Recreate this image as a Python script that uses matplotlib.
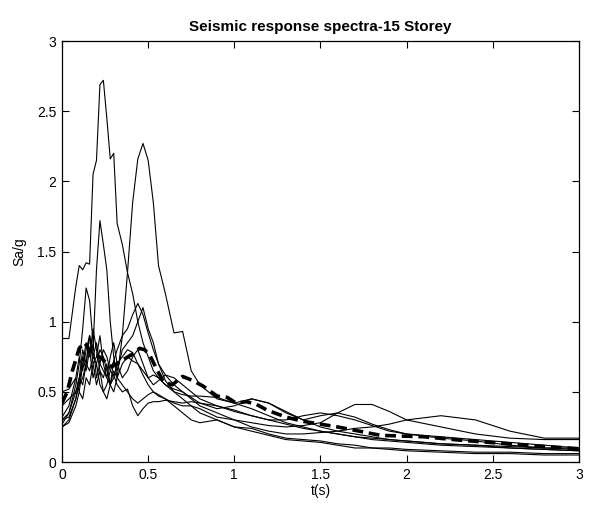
import matplotlib
matplotlib.use("Agg")
import matplotlib.pyplot as plt

plt.rcParams['font.family'] = ['Liberation Sans', 'DejaVu Sans']

# period grid (s) shared by the individual records
period = [0.00, 0.04, 0.08, 0.10, 0.12, 0.14, 0.16, 0.18, 0.20, 0.22,
          0.24, 0.26, 0.28, 0.30, 0.32, 0.35, 0.38, 0.41, 0.44, 0.47,
          0.50, 0.53, 0.56, 0.60, 0.65, 0.70, 0.75, 0.80, 0.90, 1.00,
          1.10, 1.20, 1.30, 1.40, 1.50, 1.60, 1.70, 1.80, 1.90, 2.00,
          2.20, 2.40, 2.60, 2.80, 3.00]

# spectral acceleration Sa/g of each ground motion record
rec_a = [0.88, 0.88, 1.25, 1.40, 1.37, 1.42, 1.41, 2.05, 2.15, 2.69,
         2.72, 2.45, 2.16, 2.20, 1.70, 1.55, 1.35, 1.20, 1.00, 0.85,
         0.75, 0.65, 0.60, 0.55, 0.50, 0.48, 0.47, 0.47, 0.46, 0.42,
         0.38, 0.33, 0.28, 0.25, 0.22, 0.20, 0.18, 0.16, 0.15, 0.14,
         0.12, 0.11, 0.10, 0.09, 0.08]
rec_b = [0.30, 0.35, 0.50, 0.55, 0.60, 0.70, 0.65, 0.75, 0.70, 0.80,
         0.75, 0.65, 0.55, 0.50, 0.60, 0.90, 1.35, 1.85, 2.16, 2.27,
         2.15, 1.85, 1.40, 1.20, 0.92, 0.93, 0.65, 0.55, 0.45, 0.42,
         0.45, 0.42, 0.35, 0.30, 0.25, 0.22, 0.20, 0.18, 0.16, 0.15,
         0.13, 0.12, 0.11, 0.10, 0.10]
rec_c = [0.30, 0.32, 0.45, 0.60, 0.55, 0.70, 0.90, 0.80, 1.37, 1.72,
         1.55, 1.37, 1.00, 0.75, 0.60, 0.55, 0.50, 0.45, 0.42, 0.45,
         0.48, 0.50, 0.48, 0.45, 0.42, 0.40, 0.40, 0.38, 0.32, 0.30,
         0.28, 0.26, 0.25, 0.26, 0.28, 0.35, 0.41, 0.41, 0.36, 0.30,
         0.25, 0.20, 0.17, 0.16, 0.16]
rec_d = [0.27, 0.35, 0.55, 0.70, 0.95, 1.24, 1.15, 0.85, 0.60, 0.70,
         0.65, 0.60, 0.55, 0.72, 0.65, 0.80, 0.85, 0.90, 1.00, 1.10,
         0.95, 0.85, 0.70, 0.62, 0.55, 0.50, 0.45, 0.40, 0.35, 0.30,
         0.25, 0.22, 0.20, 0.20, 0.21, 0.22, 0.24, 0.25, 0.27, 0.30,
         0.33, 0.30, 0.22, 0.17, 0.17]
rec_e = [0.25, 0.30, 0.45, 0.55, 0.75, 0.65, 0.80, 0.60, 0.70, 0.55,
         0.50, 0.55, 0.65, 0.72, 0.80, 0.90, 0.95, 1.05, 1.13, 1.05,
         0.92, 0.80, 0.70, 0.58, 0.50, 0.45, 0.40, 0.35, 0.30, 0.25,
         0.24, 0.20, 0.17, 0.16, 0.15, 0.13, 0.12, 0.10, 0.10, 0.09,
         0.08, 0.07, 0.07, 0.06, 0.06]
rec_f = [0.40, 0.45, 0.50, 0.60, 0.80, 0.70, 0.90, 0.75, 0.85, 0.70,
         0.80, 0.75, 0.65, 0.62, 0.55, 0.50, 0.52, 0.40, 0.33, 0.38,
         0.42, 0.43, 0.43, 0.44, 0.43, 0.42, 0.43, 0.42, 0.40, 0.37,
         0.33, 0.30, 0.27, 0.24, 0.22, 0.20, 0.18, 0.17, 0.16, 0.15,
         0.13, 0.12, 0.10, 0.09, 0.08]
rec_g = [0.32, 0.40, 0.60, 0.50, 0.70, 0.85, 0.75, 0.95, 0.80, 0.65,
         0.60, 0.70, 0.55, 0.65, 0.60, 0.70, 0.75, 0.72, 0.70, 0.65,
         0.60, 0.62, 0.60, 0.55, 0.52, 0.50, 0.46, 0.42, 0.38, 0.40,
         0.45, 0.42, 0.36, 0.30, 0.33, 0.35, 0.32, 0.27, 0.23, 0.20,
         0.17, 0.15, 0.12, 0.10, 0.09]
rec_h = [0.25, 0.28, 0.40, 0.50, 0.45, 0.60, 0.55, 0.70, 0.55, 0.65,
         0.50, 0.45, 0.55, 0.60, 0.70, 0.75, 0.80, 0.78, 0.70, 0.62,
         0.55, 0.50, 0.47, 0.45, 0.40, 0.35, 0.30, 0.28, 0.30, 0.25,
         0.22, 0.19, 0.16, 0.15, 0.14, 0.12, 0.10, 0.10, 0.09, 0.08,
         0.07, 0.06, 0.06, 0.05, 0.05]
rec_i = [0.50, 0.52, 0.60, 0.75, 0.65, 0.80, 0.90, 0.70, 0.75, 0.90,
         0.70, 0.60, 0.75, 0.85, 0.70, 0.60, 0.65, 0.75, 0.80, 0.70,
         0.60, 0.55, 0.58, 0.62, 0.60, 0.55, 0.50, 0.45, 0.40, 0.36,
         0.33, 0.30, 0.30, 0.33, 0.35, 0.33, 0.30, 0.26, 0.22, 0.20,
         0.18, 0.16, 0.14, 0.12, 0.10]

records = [rec_a, rec_b, rec_c, rec_d, rec_e, rec_f, rec_g, rec_h, rec_i]

# mean spectrum (dashed)
mean_t = [0.00, 0.03, 0.06, 0.10, 0.13, 0.16, 0.20, 0.23, 0.26, 0.29,
          0.33, 0.37, 0.41, 0.45, 0.48, 0.51, 0.55, 0.59, 0.64, 0.70,
          0.76, 0.82, 0.90, 0.96, 1.01, 1.07, 1.13, 1.19, 1.30, 1.40,
          1.60, 1.85, 2.10, 2.30, 2.55, 2.80, 3.00]
mean_sa = [0.42, 0.50, 0.65, 0.81, 0.85, 0.80, 0.76, 0.74, 0.70, 0.68,
           0.71, 0.74, 0.77, 0.81, 0.80, 0.76, 0.66, 0.57, 0.55, 0.61,
           0.58, 0.54, 0.47, 0.46, 0.42, 0.43, 0.41, 0.37, 0.32, 0.29,
           0.25, 0.19, 0.18, 0.157, 0.133, 0.11, 0.095]

fig = plt.figure(figsize=(5.93, 5.05), dpi=100)
ax = fig.add_axes([0.1046, 0.0851, 0.8715, 0.8337])

for rec in records:
    ax.plot(period, rec, color='black', linewidth=0.8)
ax.plot(mean_t, mean_sa, color='black', linewidth=2.6, linestyle=(0, (3, 1.6)))

ax.set_xlim(0, 3)
ax.set_ylim(0, 3)
ax.set_xticks([0, 0.5, 1, 1.5, 2, 2.5, 3])
ax.set_xticklabels(['0', '0.5', '1', '1.5', '2', '2.5', '3'])
ax.set_yticks([0, 0.5, 1, 1.5, 2, 2.5, 3])
ax.set_yticklabels(['0', '0.5', '1', '1.5', '2', '2.5', '3'])
ax.tick_params(direction='in', length=5, width=0.8, top=True, right=True,
               labelsize=10, pad=4)
for s in ax.spines.values():
    s.set_linewidth(0.9)

ax.set_xlabel('t(s)', fontsize=10, labelpad=2)
ax.set_ylabel('Sa/g', fontsize=10, labelpad=8)
ax.set_title('Seismic response spectra-15 Storey', fontsize=11,
             fontweight='bold', pad=7)

fig.savefig('out.png', dpi=100)
